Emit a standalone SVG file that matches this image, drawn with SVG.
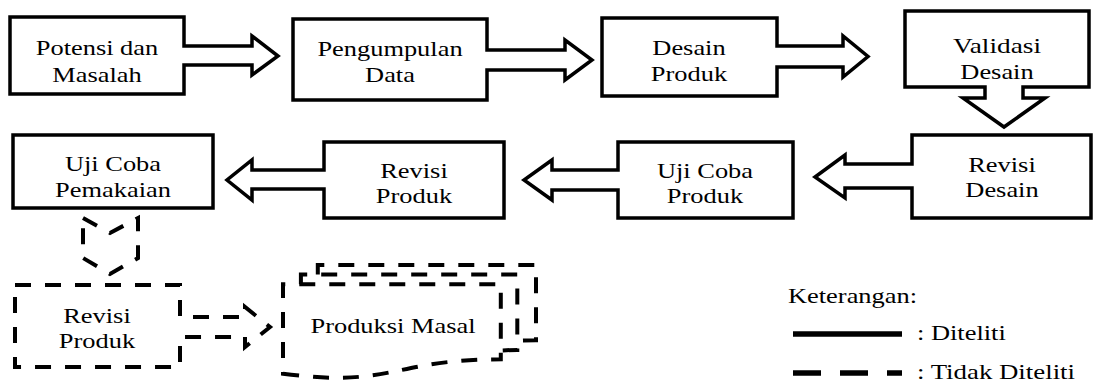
<svg xmlns="http://www.w3.org/2000/svg" width="1094" height="385" viewBox="0 0 1094 385">
<style>
.solid{fill:#fff;stroke:#000;stroke-width:3.5;stroke-linejoin:miter}
.dash{fill:none;stroke:#000;stroke-width:4;stroke-dasharray:16 14;stroke-linejoin:miter}
.t{font-family:"Liberation Serif","Times New Roman",serif;font-size:22px;fill:#000;text-anchor:middle}
.l{font-family:"Liberation Serif","Times New Roman",serif;font-size:22px;fill:#000}
</style>
<rect width="1094" height="385" fill="#fff"/>
<g id="connectors">
<path class="dash" d="M83,218 L110,233 L138,218 V258 L110,274 L83,258 Z"/>
</g>
<g id="n1">
<path class="solid" d="M10,17 H184 V46 H252 V36 L278,56 L252,75 V65 H184 V94 H10 Z"/>
<text class="t" x="97" y="55" textLength="122.5" lengthAdjust="spacingAndGlyphs">Potensi dan</text>
<text class="t" x="97" y="82" textLength="89.4" lengthAdjust="spacingAndGlyphs">Masalah</text>
</g>
<g id="n2">
<path class="solid" d="M293,19 H487 V50 H565 V40 L592,60 L565,80 V70 H487 V100 H293 Z"/>
<text class="t" x="390" y="56" textLength="145.2" lengthAdjust="spacingAndGlyphs">Pengumpulan</text>
<text class="t" x="390" y="82" textLength="49.8" lengthAdjust="spacingAndGlyphs">Data</text>
</g>
<g id="n3">
<path class="solid" d="M602,18 H777 V46 H843 V36 L868,56.5 L843,77 V67 H777 V96 H602 Z"/>
<text class="t" x="689" y="55" textLength="73.3" lengthAdjust="spacingAndGlyphs">Desain</text>
<text class="t" x="689" y="81" textLength="76.3" lengthAdjust="spacingAndGlyphs">Produk</text>
</g>
<g id="n4">
<path class="solid" d="M905,11 H1089 V87 H1023 V98 H1045 L1004,127 L963,98 H985 V87 H905 Z"/>
<text class="t" x="997" y="53" textLength="88" lengthAdjust="spacingAndGlyphs">Validasi</text>
<text class="t" x="997" y="79" textLength="73.3" lengthAdjust="spacingAndGlyphs">Desain</text>
</g>
<g id="n5">
<path class="solid" d="M912,135 H1091 V218 H912 V188 H845 V198 L815,177 L845,155 V164 H912 Z"/>
<text class="t" x="1002" y="172" textLength="67.5" lengthAdjust="spacingAndGlyphs">Revisi</text>
<text class="t" x="1002" y="197" textLength="73.3" lengthAdjust="spacingAndGlyphs">Desain</text>
</g>
<g id="n6">
<path class="solid" d="M618,142 H793 V218 H618 V190 H552 V200 L524,180 L552,160 V170 H618 Z"/>
<text class="t" x="705" y="178" textLength="96.1" lengthAdjust="spacingAndGlyphs">Uji Coba</text>
<text class="t" x="705" y="203" textLength="76.3" lengthAdjust="spacingAndGlyphs">Produk</text>
</g>
<g id="n7">
<path class="solid" d="M324,142 H504 V218 H324 V189 H252 V200 L227,180 L252,160 V170 H324 Z"/>
<text class="t" x="414" y="178" textLength="67.5" lengthAdjust="spacingAndGlyphs">Revisi</text>
<text class="t" x="414" y="203" textLength="76.3" lengthAdjust="spacingAndGlyphs">Produk</text>
</g>
<g id="n8">
<rect class="solid" x="13" y="135" width="200" height="73"/>
<text class="t" x="113" y="171" textLength="96.1" lengthAdjust="spacingAndGlyphs">Uji Coba</text>
<text class="t" x="113" y="197" textLength="115.8" lengthAdjust="spacingAndGlyphs">Pemakaian</text>
</g>
<g id="n9">
<path class="dash" d="M15,285 H180 V317 H245 V307 L270,327 L245,347 V337 H180 V367 H15 Z"/>
<text class="t" x="97" y="323" textLength="67.5" lengthAdjust="spacingAndGlyphs">Revisi</text>
<text class="t" x="97" y="348" textLength="76.3" lengthAdjust="spacingAndGlyphs">Produk</text>
</g>
<g id="n10">
<path class="dash" d="M317.8,274.5 L317.8,265 L536,265 L536,340.3 C526.6,340.3 517.3,340.7 517.3,340.7"/>
<path class="dash" d="M300.9,284.2 L300.9,274.5 L517.3,274.5 L517.3,350 C509,350 500.8,350.5 500.8,350.5"/>
<path class="dash" d="M283,373.7 C391.9,388.2 391.9,359.3 500.8,359.3 L500.8,284.2 L283,284.2 Z"/>
<text class="t" x="393" y="333" textLength="165" lengthAdjust="spacingAndGlyphs">Produksi Masal</text>
</g>
<g id="legend">
<text class="l" x="788" y="303" textLength="129" lengthAdjust="spacingAndGlyphs">Keterangan:</text>
<line x1="793" y1="334" x2="902" y2="334" stroke="#000" stroke-width="5.5"/>
<text class="l" x="917" y="340" textLength="88.8" lengthAdjust="spacingAndGlyphs">: Diteliti</text>
<line x1="793" y1="373" x2="902" y2="373" stroke="#000" stroke-width="5.5" stroke-dasharray="28 19"/>
<text class="l" x="917" y="379" textLength="158" lengthAdjust="spacingAndGlyphs">: Tidak Diteliti</text>
</g>
</svg>
